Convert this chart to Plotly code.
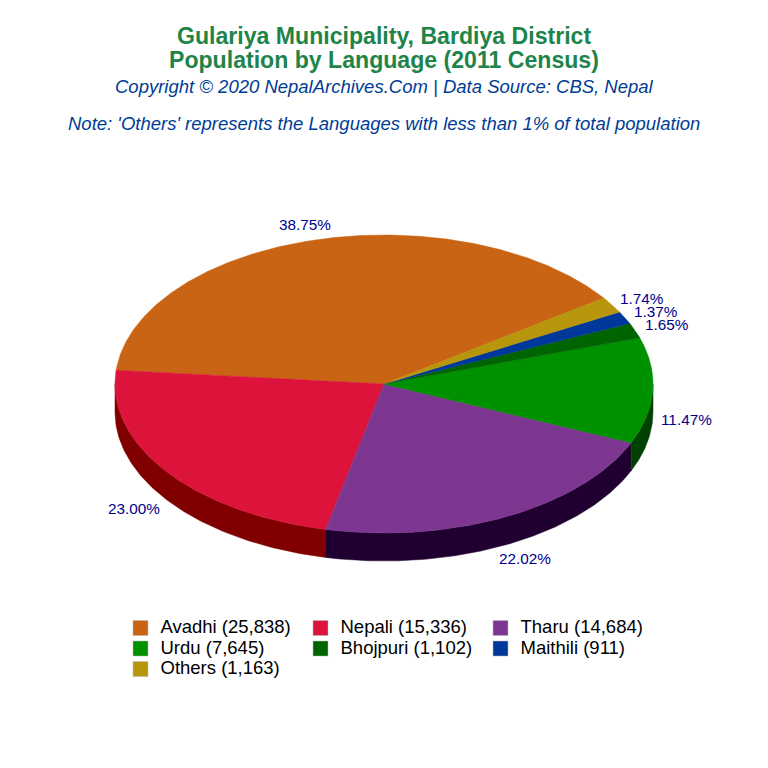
import numpy as np
import plotly.graph_objects as go

languages = ['Avadhi', 'Nepali', 'Tharu', 'Urdu', 'Bhojpuri', 'Maithili', 'Others']
population = [25838, 15336, 14684, 7645, 1102, 911, 1163]
top_colors = ['#C86414', '#DC143C', '#7D3790', '#009100', '#006400', '#00379B', '#B8960C']
side_colors = ['#643207', '#800000', '#200030', '#004000', '#003200', '#001B4E', '#5C4B06']

# pie geometry, axes run in page pixels
cx, cy = 384, 384
rx, ry = 269, 149
depth = 28
start = 35.2

total = sum(population)
shares = [p / total for p in population]
bounds = start + 360 * np.concatenate([[0], np.cumsum(shares)])

fig = go.Figure()


def arc(a0, a1):
    t = np.radians(np.linspace(a0, a1, max(int(abs(a1 - a0) * 2), 2)))
    return cx + rx * np.cos(t), cy + ry * np.sin(t)


# side walls, only the front half of the rim shows
for i in range(len(languages)):
    for lo, hi in [(180, 360), (540, 720)]:
        a0, a1 = max(bounds[i], lo), min(bounds[i + 1], hi)
        if a1 <= a0:
            continue
        x, y = arc(a0, a1)
        fig.add_trace(go.Scatter(
            x=np.concatenate([x, x[::-1], x[:1]]),
            y=np.concatenate([y, (y - depth)[::-1], y[:1]]),
            mode='lines', fill='toself', fillcolor=side_colors[i],
            line=dict(color=side_colors[i], width=0.5),
            hoverinfo='skip', showlegend=False))

# top faces
for i in range(len(languages)):
    x, y = arc(bounds[i], bounds[i + 1])
    fig.add_trace(go.Scatter(
        x=np.concatenate([[cx], x, [cx]]),
        y=np.concatenate([[cy], y, [cy]]),
        mode='lines', fill='toself', fillcolor=top_colors[i],
        line=dict(color=top_colors[i], width=0.5),
        hoverinfo='skip', showlegend=False))

# legend swatches, one legend per column
# small legend font keeps the rows tight, span sets the real size
legend_ids = ['legend', 'legend2', 'legend3']
for i, name in enumerate(languages):
    fig.add_trace(go.Scatter(
        x=[None], y=[None], mode='markers', legend=legend_ids[i % 3],
        name=f'<span style="font-size:18.5px">{name} ({population[i]:,})</span>',
        marker=dict(symbol='square', size=15, color=top_colors[i],
                    line=dict(color='#BBBBBB', width=0.5))))

# percent labels sit outside the rim, pushed down by the wall on the front half
label_nudge_x = [2, -2, 4, 0, 0, 1, 2]
label_nudge_y = [0, -1, 0, 0, 0, 1, 2]
for i, s in enumerate(shares):
    mid = np.radians((bounds[i] + bounds[i + 1]) / 2)
    lx = cx + 305 * np.cos(mid) - 2 + label_nudge_x[i]
    ly = cy + 165 * np.sin(mid) - (depth if np.sin(mid) < 0 else 0) - label_nudge_y[i]
    fig.add_annotation(x=lx, y=ly, text=f'{s * 100:.2f}%', showarrow=False,
                       font=dict(family='Liberation Sans', size=15.3, color='#00008B'))

title_lines = [
    ('<b>Gulariya Municipality, Bardiya District</b>', 36, 23.1, '#1E8449'),
    ('<b>Population by Language (2011 Census)</b>', 60, 23.1, '#1E8449'),
    ('<i>Copyright © 2020 NepalArchives.Com | Data Source: CBS, Nepal</i>', 86, 18.5, '#003C96'),
    ("<i>Note: 'Others' represents the Languages with less than 1% of total population</i>", 123, 18.5, '#003C96'),
]
for text, ypos, size, color in title_lines:
    fig.add_annotation(x=384, y=768 - ypos, text=text, showarrow=False,
                       font=dict(family='Liberation Sans', size=size, color=color))


def legend_column(left):
    return dict(
        x=left / 768, y=0.2022, xanchor='left', yanchor='top',
        itemwidth=30, tracegroupgap=0, traceorder='normal',
        font=dict(family='Liberation Sans', size=13.5, color='black'),
        bgcolor='rgba(0,0,0,0)')


fig.update_layout(
    width=768, height=768,
    margin=dict(l=0, r=0, t=0, b=0),
    paper_bgcolor='white', plot_bgcolor='white',
    xaxis=dict(range=[0, 768], visible=False, fixedrange=True),
    yaxis=dict(range=[0, 768], visible=False, fixedrange=True),
    legend=legend_column(120.5),
    legend2=legend_column(300.5),
    legend3=legend_column(480.5),
)

fig.write_html('out.html', config=dict(displayModeBar=False),
               post_script="document.body.style.margin='0';")
